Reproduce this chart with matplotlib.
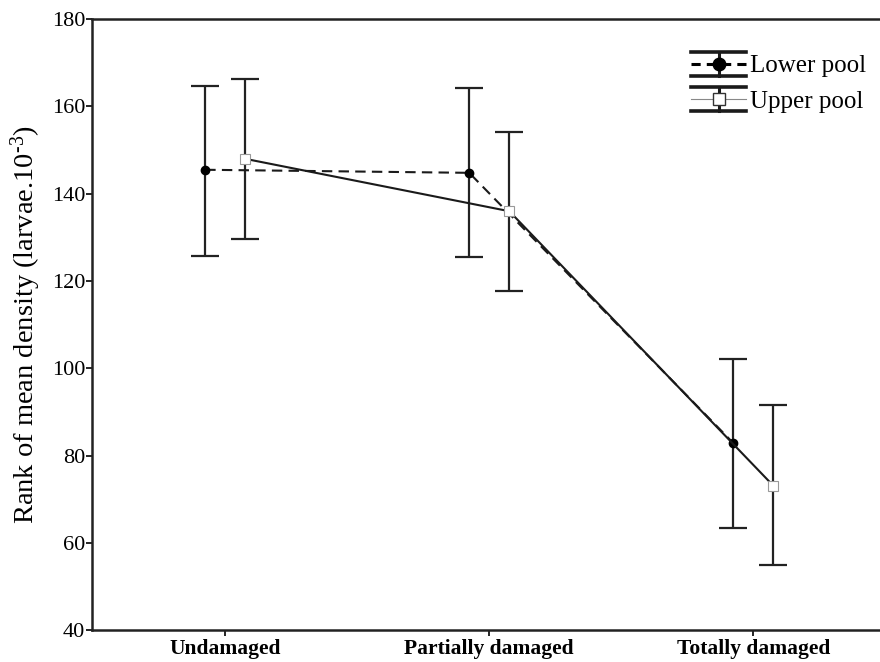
import matplotlib.pyplot as plt
import numpy as np
from matplotlib.legend_handler import HandlerBase
from matplotlib.lines import Line2D

categories = ['Undamaged', 'Partially damaged', 'Totally damaged']

lower_mean = [145.5, 144.8, 82.9]
lower_top = [164.6, 164.3, 102.2]
lower_bot = [125.7, 125.5, 63.4]

upper_mean = [148.0, 136.0, 73.1]
upper_top = [166.2, 154.2, 91.5]
upper_bot = [129.6, 117.8, 54.9]

plt.rc('font', family='Liberation Serif')
plt.rc('mathtext', fontset='custom', rm='Liberation Serif', it='Liberation Serif:italic')


class ErrHandler(HandlerBase):
    def __init__(self, ls, lw, color, marker, mfc, mec, ms):
        HandlerBase.__init__(self)
        self.ls, self.lw, self.color = ls, lw, color
        self.marker, self.mfc, self.mec, self.ms = marker, mfc, mec, ms

    def create_artists(self, legend, orig_handle, xdescent, ydescent,
                       width, height, fontsize, trans):
        xm = width / 2 - xdescent
        ym = height / 2 - ydescent
        h = height * 0.44
        arts = []
        arts.append(Line2D([-xdescent, width - xdescent], [ym, ym], ls=self.ls,
                           lw=self.lw, color=self.color))
        arts.append(Line2D([xm, xm], [ym - h, ym + h], lw=2.2, color='#1a1a1a'))
        for yy in (ym - h, ym + h):
            arts.append(Line2D([-xdescent, width - xdescent], [yy, yy], lw=2.6,
                               color='#1a1a1a'))
        arts.append(Line2D([xm], [ym], ls='none', marker=self.marker,
                           mfc=self.mfc, mec=self.mec, ms=self.ms))
        for a in arts:
            a.set_transform(trans)
        return arts


fig = plt.figure(figsize=(8.8, 6.62), dpi=100)
ax = fig.add_axes([0.1045, 0.048, 0.8955, 0.923])

x = np.arange(len(categories))
off = 0.076
xl = x - off
xu = x + off

low = np.array(lower_mean)
upp = np.array(upper_mean)
lerr = [low - np.array(lower_bot), np.array(lower_top) - low]
uerr = [upp - np.array(upper_bot), np.array(upper_top) - upp]

ax.errorbar(xl, low, yerr=lerr, fmt='none', ecolor='#222222', elinewidth=1.6,
            capsize=10, capthick=1.6, zorder=2)
ax.errorbar(xu, upp, yerr=uerr, fmt='none', ecolor='#222222', elinewidth=1.6,
            capsize=10, capthick=1.6, zorder=2)
ax.plot(xl, low, ls=(0, (5, 3)), color='#1a1a1a', lw=1.5, marker='o', ms=6,
        mfc='black', mec='black', zorder=3)
ax.plot(xu, upp, ls='-', color='#1a1a1a', lw=1.5, marker='s', ms=7,
        mfc='white', mec='#999999', mew=0.8, zorder=4)

ax.set_xlim(-0.505, 2.48)
ax.set_ylim(40, 180)
ax.set_yticks(np.arange(40, 181, 20))
ax.set_xticks(x)
ax.set_xticklabels(categories, fontweight='bold', fontsize=15.5)
ax.tick_params(axis='y', labelsize=16, length=4, width=1.2, pad=1)
ax.tick_params(axis='x', length=4, width=1.2, pad=2)
ax.set_ylabel(r'Rank of mean density (larvae.10$^{\text{-3}}$)', fontsize=20.5, labelpad=6)

for s in ['left', 'bottom', 'top']:
    ax.spines[s].set_linewidth(1.8)
    ax.spines[s].set_color('#222222')
ax.spines['right'].set_visible(False)

h1 = Line2D([], [])
h2 = Line2D([], [])
ax.legend([h1, h2], ['Lower pool', 'Upper pool'],
          handler_map={h1: ErrHandler((0, (3, 2)), 2.2, 'black', 'o', 'black', 'black', 9),
                       h2: ErrHandler('-', 0.8, '#888888', 's', 'white', '#333333', 9)},
          loc='upper right', bbox_to_anchor=(0.995, 0.966), frameon=False,
          fontsize=18, handlelength=2.2, handleheight=1.3, labelspacing=0.34,
          handletextpad=0.15, borderaxespad=0)

fig.savefig('out.png', dpi=100)
